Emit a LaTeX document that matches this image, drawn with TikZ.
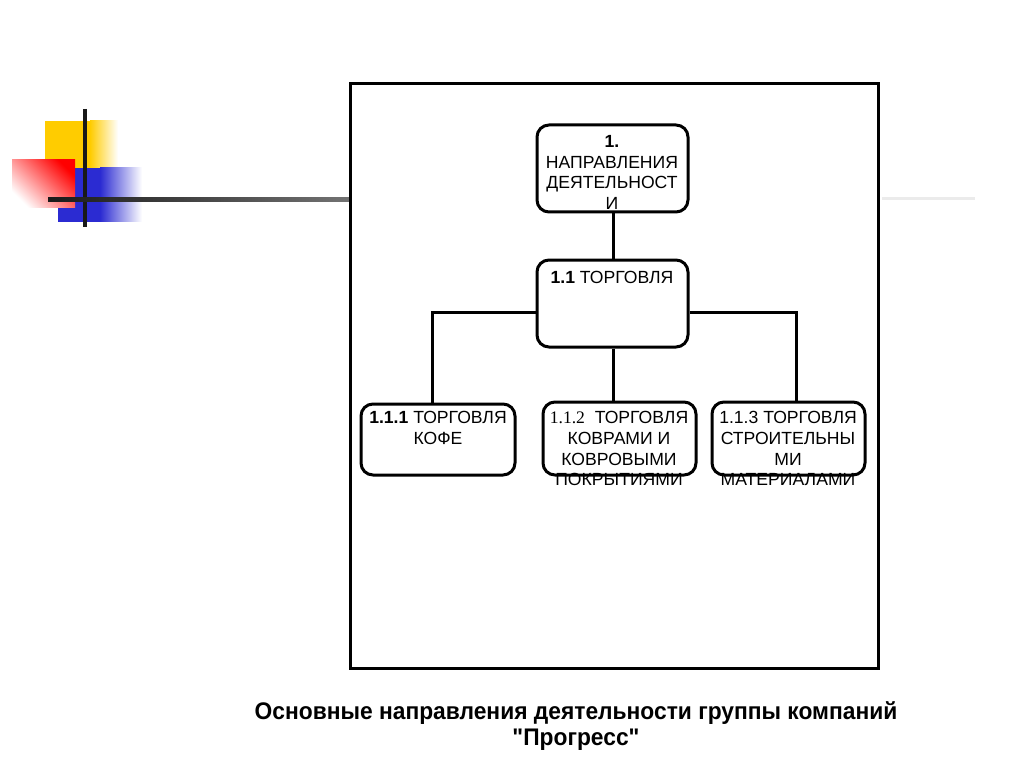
\documentclass[tikz,border=0pt]{standalone}
\usepackage{fontspec}
\setmainfont{Liberation Sans}
\newfontfamily\serifrm{Liberation Serif}
\newfontfamily\capfont{Liberation Sans}[Ligatures=TeXOff]
\begin{document}
\begin{tikzpicture}[x=1pt,y=-1pt,
  box/.style={draw=black,line width=3pt,rounded corners=12pt,inner sep=0pt},
  conn/.style={draw=black,line width=3pt},
  txt/.style={font=\fontsize{17.6}{20.8}\selectfont,align=center,anchor=north,inner sep=0pt},
  captxt/.style={font=\capfont\fontsize{24}{27}\selectfont\bfseries,align=center,inner sep=0pt}]
\definecolor{dyel}{RGB}{255,204,0}
\definecolor{dblue}{RGB}{43,43,210}
\useasboundingbox[fill=white] (0,0) rectangle (1024,767);
% decoration
\fill[dyel] (45,121) rectangle (91,168);
\shade[left color=dyel,right color=white] (90,121) rectangle (118,168);
\fill[dblue] (58,168) rectangle (101,222);
\shade[left color=dblue,right color=white] (100,168) rectangle (142,222);
\shade[top color=red,bottom color=white,shading angle=-45] (12,160) rectangle (75,208);
\draw[line width=4pt,black!90] (85,109) -- (85,227);
\shade[left color=black!90,right color=black!55] (48,198) rectangle (350,202);
\fill[black!8] (882,197) rectangle (975,200);
% frame
\draw[line width=3pt] (350,84) rectangle (878,668);
% texts
\node[txt] (t1) at (612,135) {\textbf{1.}\\НАПРАВЛЕНИЯ\\ДЕЯТЕЛЬНОСТ\\И};
\node[txt] (t11) at (612,271) {\textbf{1.1} ТОРГОВЛЯ};
\node[txt] (t111) at (438,411) {\textbf{1.1.1} ТОРГОВЛЯ\\КОФЕ};
\node[txt] (t112) at (619,411) {{\serifrm 1.1.2}\ \ ТОРГОВЛЯ\\КОВРАМИ И\\КОВРОВЫМИ\\ПОКРЫТИЯМИ};
\node[txt] (t113) at (788,411) {1.1.3 ТОРГОВЛЯ\\СТРОИТЕЛЬНЫ\\МИ\\МАТЕРИАЛАМИ};
% boxes
\node[box,minimum width=151pt,minimum height=87pt] (n1) at (612.5,168.5) {};
\node[box,minimum width=151pt,minimum height=87pt] (n11) at (612.5,303.5) {};
\node[box,minimum width=154pt,minimum height=71pt] (n111) at (438,439.5) {};
\node[box,minimum width=153pt,minimum height=73pt] (n112) at (619.5,438.5) {};
\node[box,minimum width=153pt,minimum height=73pt] (n113) at (788.5,438.5) {};
% connectors
\draw[conn] (n1.south -| 613,0) -- (n11.north -| 613,0);
\draw[conn] (n11.west |- 0,312) -| (n111.north -| 432,0);
\draw[conn] (n11.east |- 0,312) -| (n113.north -| 796,0);
\draw[conn] (n11.south -| 613,0) -- (n112.north -| 613,0);
% caption
\node[captxt] (c1) at (576,713) {\scalebox{0.95}[1]{Основные направления деятельности группы компаний}};
\node[captxt] (c2) at (576,740) {\scalebox{0.95}[1]{"Прогресс"}};
\end{tikzpicture}
\end{document}
